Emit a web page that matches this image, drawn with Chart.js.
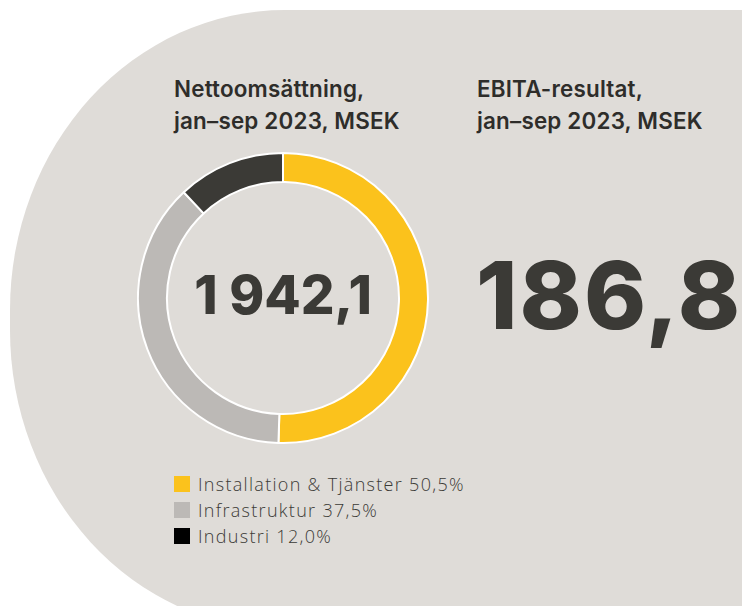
<!DOCTYPE html>
<html>
<head>
<meta charset="utf-8">
<script src="https://cdn.jsdelivr.net/npm/chart.js@4"></script>
<style>
  html, body { margin: 0; padding: 0; background: #fff; }
  body { width: 742px; height: 606px; position: relative; overflow: hidden; font-family: "Inter", sans-serif; color: #3b3a36; }
  #panel {
    position: absolute; left: 10px; top: 10px; width: 760px; height: 620px;
    background: #dfdcd8;
    border-top-left-radius: 275px 300px;
    border-bottom-left-radius: 275px 300px;
  }
  .title { position: absolute; top: 73px; font-size: 22.4px; font-weight: 600; line-height: 32px; letter-spacing: 0.2px; color: #2e2d2a; }
  #chartWrap { position: absolute; left: 137px; top: 152px; width: 292px; height: 292px; }
  #bigNumber { position: absolute; left: 476px; top: 240px; font-size: 94px; font-weight: 800; letter-spacing: 2px; line-height: 110px; white-space: nowrap; }
  #legend { position: absolute; left: 174px; top: 471px; font-family: "Open Sans", sans-serif; font-size: 18px; font-weight: 300; letter-spacing: 1.3px; }
  .item { height: 26px; display: flex; align-items: center; white-space: nowrap; }
  .swatch { width: 16px; height: 16px; margin-right: 8px; }
</style>
</head>
<body>
<div id="panel"></div>
<div class="title" style="left:174px">Nettoomsättning,<br>jan–sep 2023, MSEK</div>
<div class="title" style="left:477px">EBITA-resultat,<br>jan–sep 2023, MSEK</div>
<div id="chartWrap"><canvas id="donut" width="292" height="292"></canvas></div>
<div id="bigNumber"></div>
<div id="legend"></div>

<script>
const segments = ["Installation & Tjänster", "Infrastruktur", "Industri"];
const shares = [50.5, 37.5, 12.0];
const segmentColors = ["#fbc21c", "#bcb9b6", "#3b3a36"];
const legendColors = ["#fbc21c", "#bcb9b6", "#000000"];
const netSales = "1 942,1";
const ebita = "186,8";

document.getElementById("bigNumber").textContent = ebita;

const legend = document.getElementById("legend");
segments.forEach((name, i) => {
  const row = document.createElement("div");
  row.className = "item";
  row.innerHTML = `<span class="swatch" style="background:${legendColors[i]}"></span>${name} ${shares[i].toFixed(1).replace(".", ",")}%`;
  legend.appendChild(row);
});

const centerText = {
  id: "centerText",
  afterDraw(chart) {
    const ctx = chart.ctx;
    const meta = chart.getDatasetMeta(0).data[0];
    ctx.save();
    ctx.font = "800 53px Inter";
    ctx.fillStyle = "#3b3a36";
    ctx.textAlign = "center";
    ctx.textBaseline = "middle";
    ctx.fillText(netSales, meta.x, meta.y);
    ctx.restore();
  }
};

new Chart(document.getElementById("donut").getContext("2d"), {
  type: "doughnut",
  data: {
    labels: segments,
    datasets: [{
      data: shares,
      backgroundColor: segmentColors,
      borderColor: "#ffffff",
      borderWidth: 2,
    }],
  },
  options: {
    responsive: false,
    animation: false,
    cutout: "80%",
    layout: { padding: 0 },
    plugins: {
      legend: { display: false },
      tooltip: { enabled: false },
    },
  },
  plugins: [centerText],
});
</script>
</body>
</html>
